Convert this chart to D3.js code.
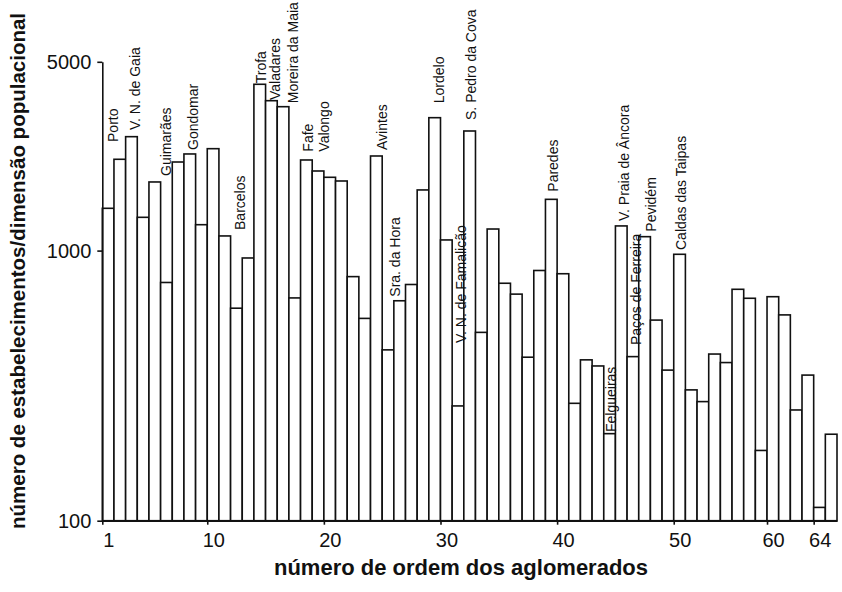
<!DOCTYPE html>
<html>
<head>
<meta charset="utf-8">
<script src="https://cdn.jsdelivr.net/npm/d3@7"></script>
<style>
  html, body { margin: 0; padding: 0; background: #fff; }
  svg { display: block; font-family: "Liberation Sans", Arial, Helvetica, sans-serif; }
</style>
</head>
<body>
<div id="chart"></div>
<script>
// bar heights (establishments / population size), ordered by rank
const values = [
  1434, 2178, 2641, 1328, 1795, 762, 2128, 2279, 1247, 2384,
  1133, 612, 939, 4128, 3589, 3410, 668, 2165, 1971, 1868,
  1810, 801, 561, 2240, 429, 652, 749, 1677, 3105, 1095,
  266, 2772, 498, 1202, 757, 690, 403, 844, 1548, 821,
  272, 394, 374, 210, 1234, 405, 1126, 553, 361, 969,
  305, 276, 414, 385, 719, 666, 182, 675, 578, 257,
  346, 112, 209
]
const ordem = values.map((d, i) => i + 1)

const yTicks = [100, 1000, 5000]
const xTickAt = [1, 10, 20, 30, 40, 50, 58, 62]
const xTickText = ["1", "10", "20", "30", "40", "50", "60", "64"]

// place names written over the bars (x in bar units, level in data units)
const labelNames = ["Porto", "V. N. de Gaia", "Guimarães", "Gondomar", "Barcelos", "Trofa",
  "Valadares", "Moreira da Maia", "Fafe", "Valongo", "Avintes", "Sra. da Hora", "Lordelo",
  "V. N. de Famalicão", "S. Pedro da Cova", "Paredes", "Felgueiras", "V. Praia de Âncora",
  "Paços de Ferreira", "Pevidém", "Caldas das Taipas"]
const labelAt = [2.35, 4.23, 6.89, 9.2, 13.23, 15.08, 16.28, 17.78, 19.06, 20.44, 25.37,
  26.52, 30.3, 32.18, 33.08, 40.07, 45.08, 46.16, 47.18, 48.51, 51.04]
const labelLevel = [2524, 2796, 1889, 2358, 1192, 4164, 3611, 3511, 2324, 2324, 2358,
  675, 3511, 455, 3045, 1652, 213, 1287, 447, 1175, 1005]

const width = 842, height = 592
const ink = "#111"

const svg = d3.select("#chart").append("svg")
  .attr("width", width)
  .attr("height", height)

const x = d3.scaleLinear().domain([1, values.length + 1]).range([102.3, 837])
const y = d3.scaleLog().domain([100, 5000]).range([520.7, 61.8])

// bars
svg.append("g")
  .selectAll("rect")
  .data(values)
  .join("rect")
  .attr("x", (d, i) => x(ordem[i]))
  .attr("width", (d, i) => x(ordem[i] + 1) - x(ordem[i]))
  .attr("y", d => y(d))
  .attr("height", d => y(100) - y(d))
  .attr("fill", "#fff")
  .attr("stroke", ink)
  .attr("stroke-width", 1.6)

// axes
const yAxis = svg.append("g")
  .attr("transform", `translate(${x(1)},0)`)
  .call(d3.axisLeft(y).tickValues(yTicks).tickFormat(d3.format("d")).tickSize(5).tickSizeOuter(0).tickPadding(6))
yAxis.select(".domain").attr("stroke", ink).attr("stroke-width", 1.6)
yAxis.selectAll(".tick line").attr("stroke", ink).attr("stroke-width", 1.6)
yAxis.selectAll(".tick text")
  .attr("fill", ink)
  .style("font-size", "20px")

const xAxis = svg.append("g")
  .attr("transform", `translate(0,${y(100)})`)
  .call(d3.axisBottom(x).tickValues(xTickAt).tickFormat((d, i) => xTickText[i]).tickSize(4).tickSizeOuter(0).tickPadding(8))
xAxis.select(".domain").attr("stroke", ink).attr("stroke-width", 1.6)
xAxis.selectAll(".tick line").attr("stroke", ink).attr("stroke-width", 1.6)
xAxis.selectAll(".tick text")
  .attr("fill", ink)
  .attr("dx", 6)
  .style("font-size", "20px")

// rotated place names
svg.append("g")
  .selectAll("text")
  .data(labelNames)
  .join("text")
  .attr("transform", (d, i) => `translate(${x(labelAt[i])},${y(labelLevel[i])}) rotate(-90)`)
  .attr("text-anchor", "start")
  .attr("fill", ink)
  .style("font-size", "14px")
  .text(d => d)

// titles
svg.append("text")
  .attr("transform", "translate(25,271) rotate(-90)")
  .attr("text-anchor", "middle")
  .attr("fill", ink)
  .style("font-size", "20.5px")
  .style("font-weight", "bold")
  .text("número de estabelecimentos/dimensão populacional")

svg.append("text")
  .attr("x", 461)
  .attr("y", 575)
  .attr("text-anchor", "middle")
  .attr("fill", ink)
  .style("font-size", "22px")
  .style("font-weight", "bold")
  .text("número de ordem dos aglomerados")
</script>
</body>
</html>
